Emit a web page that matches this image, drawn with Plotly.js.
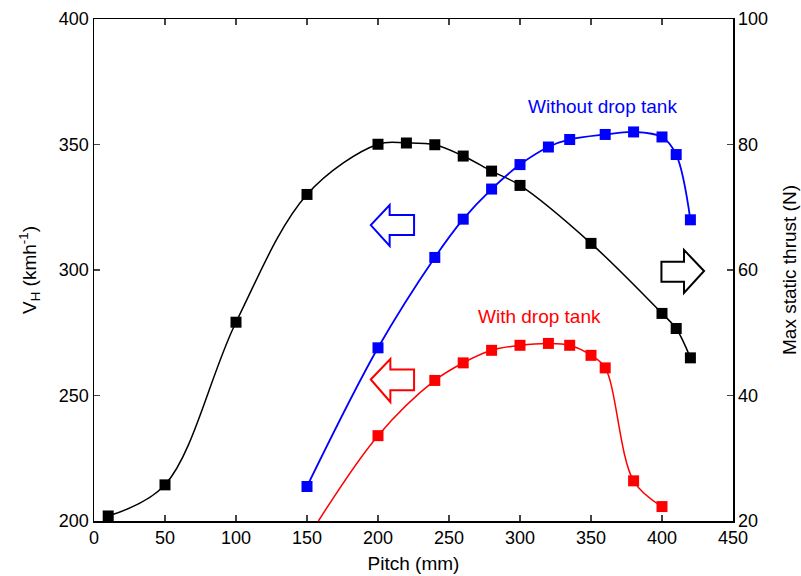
<!DOCTYPE html>
<html>
<head>
<meta charset="utf-8">
<script src="https://cdn.plot.ly/plotly-3.0.1.min.js"></script>
<style>html,body{margin:0;padding:0;background:#fff;}#chart{width:801px;height:576px;}</style>
</head>
<body>
<div id="chart"></div>
<script>
// Black series: V_H (km/h) vs pitch (mm), left axis
const pitchBlack = [10, 50, 100, 150, 200, 220, 240, 260, 280, 300, 350, 400, 410, 420];
const vH = [202, 214.4, 279.2, 330.1, 350.1, 350.6, 349.9, 345.4, 339.4, 333.7, 310.6, 282.7, 276.7, 265.0];

// Blue series: max static thrust without drop tank (N), right axis
const pitchBlue = [150, 200, 240, 260, 280, 300, 320, 335, 360, 380, 400, 410, 420];
const thrustNoTank = [25.5, 47.6, 62.0, 68.1, 72.9, 76.8, 79.6, 80.8, 81.6, 82.0, 81.2, 78.4, 68.0];

// Red series: max static thrust with drop tank (N), right axis
const pitchRed = [200, 240, 260, 280, 300, 320, 335, 350, 360, 380, 400];
const thrustTank = [33.6, 42.4, 45.2, 47.2, 48.0, 48.3, 48.0, 46.4, 44.4, 26.4, 22.3];
// fitted red curve continues down to the axis
const redCurveStartX = [158];
const redCurveStartY = [20];

const FONT = 'Liberation Sans, Arial, sans-serif';

const traces = [
  {x: pitchBlack, y: vH, type: 'scatter', mode: 'lines+markers',
   line: {color: '#000', width: 1.5, shape: 'spline', smoothing: 1},
   marker: {symbol: 'square', size: 11, color: '#000'}, yaxis: 'y', showlegend: false},
  {x: pitchBlue, y: thrustNoTank, type: 'scatter', mode: 'lines+markers',
   line: {color: '#0000ff', width: 1.8, shape: 'spline', smoothing: 1},
   marker: {symbol: 'square', size: 11, color: '#0000ff'}, yaxis: 'y2', showlegend: false},
  {x: redCurveStartX.concat(pitchRed), y: redCurveStartY.concat(thrustTank), type: 'scatter', mode: 'lines',
   line: {color: '#ff0000', width: 1.5, shape: 'spline', smoothing: 1},
   yaxis: 'y2', showlegend: false, cliponaxis: true},
  {x: pitchRed, y: thrustTank, type: 'scatter', mode: 'markers',
   marker: {symbol: 'square', size: 11, color: '#ff0000'}, yaxis: 'y2', showlegend: false}
];

function leftArrow(tipX, backX, endX, tipY, headTop, headBot, bodyTop, bodyBot) {
  return `M ${tipX},${tipY} L ${backX},${headTop} L ${backX},${bodyTop} L ${endX},${bodyTop} L ${endX},${bodyBot} L ${backX},${bodyBot} L ${backX},${headBot} Z`;
}
function rightArrow(startX, backX, tipX, tipY, headTop, headBot, bodyTop, bodyBot) {
  return `M ${tipX},${tipY} L ${backX},${headTop} L ${backX},${bodyTop} L ${startX},${bodyTop} L ${startX},${bodyBot} L ${backX},${bodyBot} L ${backX},${headBot} Z`;
}

const shapes = [
  {type: 'path', xref: 'x', yref: 'y', path: leftArrow(194.9, 208.2, 225.4, 317.9, 325.9, 309.6, 321.9, 313.9),
   line: {color: '#0000ff', width: 2}, fillcolor: 'rgba(255,255,255,0)'},
  {type: 'path', xref: 'x', yref: 'y', path: leftArrow(194.9, 208.7, 225.4, 256.4, 264.5, 247.4, 260.4, 252.1),
   line: {color: '#ff0000', width: 2}, fillcolor: 'rgba(255,255,255,0)'},
  {type: 'path', xref: 'x', yref: 'y', path: rightArrow(399.6, 415.5, 429.6, 299.6, 308.0, 290.9, 303.3, 295.3),
   line: {color: '#000', width: 2}, fillcolor: 'rgba(255,255,255,0)'}
];

const annotations = [
  {x: 358.1, y: 365.3, xref: 'x', yref: 'y', text: 'Without drop tank', showarrow: false,
   font: {family: FONT, size: 19, color: '#0000ff'}},
  {x: 313.4, y: 281.3, xref: 'x', yref: 'y', text: 'With drop tank', showarrow: false,
   font: {family: FONT, size: 19, color: '#ff0000'}}
];

const layout = {
  width: 801, height: 576,
  margin: {l: 94, r: 68, t: 19, b: 55, pad: 0},
  paper_bgcolor: '#fff', plot_bgcolor: '#fff',
  font: {family: FONT, size: 18, color: '#000'},
  xaxis: {range: [0, 450], dtick: 50, tick0: 0, ticks: 'inside', ticklen: 6, tickwidth: 1.5,
          showline: true, linecolor: '#000', linewidth: 1.5, mirror: 'ticks', showgrid: false, zeroline: false,
          title: {text: 'Pitch (mm)', font: {size: 19}, standoff: 9}, tickfont: {size: 18}},
  yaxis: {range: [200, 400], dtick: 50, tick0: 200, ticks: 'inside', ticklen: 6, tickwidth: 1.5,
          showline: true, linecolor: '#000', linewidth: 1.5, mirror: true, showgrid: false, zeroline: false,
          title: {text: 'V<sub>H</sub> (kmh<sup>-1</sup>)', font: {size: 19}, standoff: 17}, tickfont: {size: 18}},
  yaxis2: {range: [20, 100], dtick: 20, tick0: 20, ticks: 'inside', ticklen: 6, tickwidth: 1.5,
           overlaying: 'y', side: 'right', anchor: 'x',
           showline: true, linecolor: '#000', linewidth: 1.5, showgrid: false, zeroline: false,
           title: {text: 'Max static thrust (N)', font: {size: 19}, standoff: 15}, tickfont: {size: 18}},
  shapes: shapes,
  annotations: annotations,
  showlegend: false
};

Plotly.newPlot('chart', traces, layout, {displayModeBar: false, staticPlot: true});
</script>
</body>
</html>
